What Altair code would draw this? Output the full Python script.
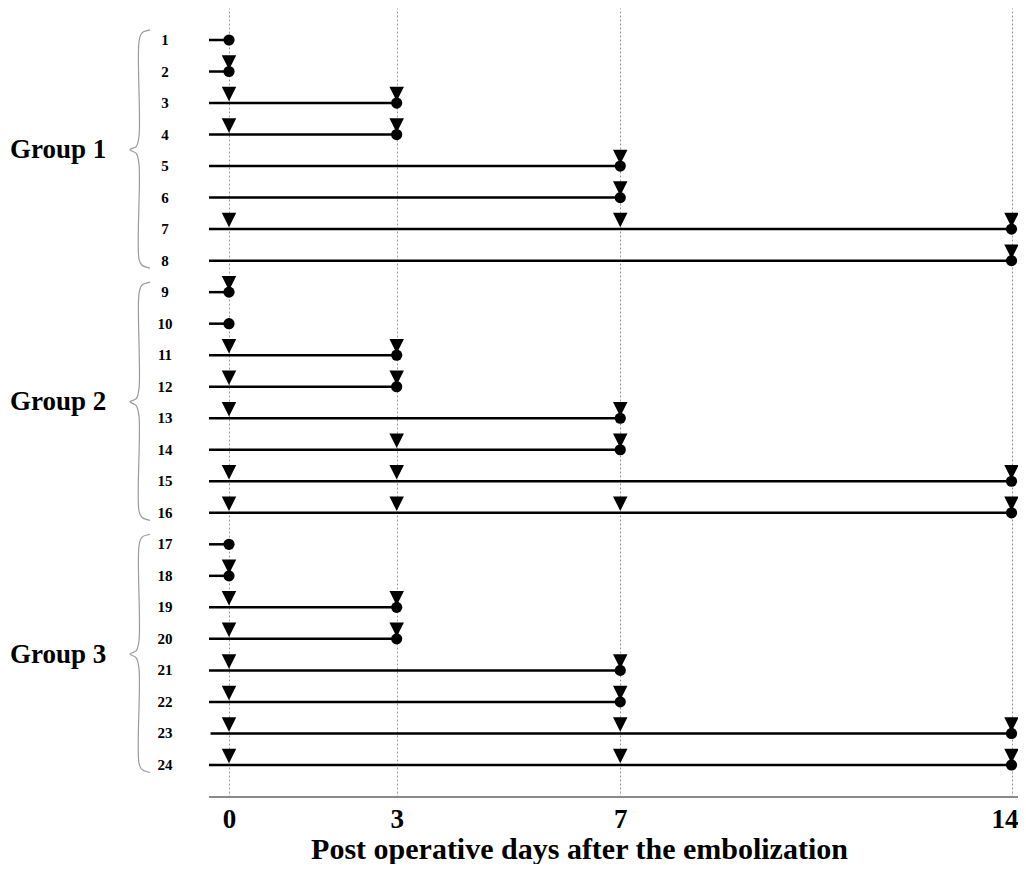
import altair as alt
import pandas as pd

# ---- data ----
rows = list(range(1, 25))
row_labels = [str(r) for r in rows]
start_day = [-0.358] * 24
start_day[22] = -0.33
end_day = [0, 0, 3, 3, 7, 7, 14, 14,
           0, 0, 3, 3, 7, 7, 14, 14,
           0, 0, 3, 3, 7, 7, 14, 14]
triangle_days = [
    [], [0], [0, 3], [0, 3], [7], [7], [0, 7, 14], [14],
    [0], [], [0, 3], [0, 3], [0, 7], [3, 7], [0, 3, 14], [0, 3, 7, 14],
    [], [0], [0, 3], [0, 3], [0, 7], [0, 7], [0, 7, 14], [0, 7, 14],
]
group_names = ["Group 1", "Group 2", "Group 3"]
group_first = [1, 9, 17]
group_last = [8, 16, 24]
tick_values = [0, 3, 7, 14]
x_title = "Post operative days after the embolization"

# ---- tables ----
seg_df = pd.DataFrame({"row": rows, "start": start_day, "end": end_day, "label": row_labels})
tri_df = pd.DataFrame([{"row": r, "day": d} for r, ds in zip(rows, triangle_days) for d in ds])
grp_df = pd.DataFrame({"name": group_names,
                       "mid": [(a + b) / 2 for a, b in zip(group_first, group_last)]})

# brace outline (relative to each group's first/mid/last row)
brace_dx = [-1.413, -1.56, -1.61, -1.61, -1.66, -1.771, -1.66, -1.61, -1.61, -1.56, -1.413]
brace_ref = ["s", "s", "s", "m", "m", "m", "m", "m", "e", "e", "e"]
brace_dy = [-0.32, -0.22, 0.05, -0.45, -0.12, -0.02, 0.10, 0.45, -0.05, 0.14, 0.24]
brace_rows = []
for g, a, b in zip(group_names, group_first, group_last):
    ref = {"s": a, "m": (a + b) / 2, "e": b}
    for i, (dx, rf, dy) in enumerate(zip(brace_dx, brace_ref, brace_dy)):
        brace_rows.append({"g": g, "i": i, "x": dx, "y": ref[rf] + dy})
brace_df = pd.DataFrame(brace_rows)

# ---- layout ----
W, H = 1010, 789
XMIN, XMAX = -3.954, 14.116
YMIN, YMAX = -0.0152, 25.017
FONT = "Liberation Serif"

xs = alt.Scale(domain=[XMIN, XMAX], nice=False, zero=False)
ys = alt.Scale(domain=[YMIN, YMAX], nice=False, zero=False, reverse=True)

x_axis = alt.Axis(values=tick_values, format="d", title=x_title, domain=False, ticks=False,
                  grid=True, gridColor="#999999", gridDash=[2, 2], gridWidth=1,
                  labelFont=FONT, labelFontSize=27, labelFontWeight="bold", labelColor="black",
                  labelPadding=9, labelFlush=False,
                  labelOffset={"condition": {"test": "datum.value == 14", "value": -7}, "value": 0},
                  titleFont=FONT, titleFontSize=30, titleFontWeight="bold", titleColor="black",
                  titleX=571, titleY=61, titleAlign="center", titleBaseline="alphabetic")


def X(field=None, datum=None):
    if datum is not None:
        return alt.X(datum=datum, type="quantitative", scale=xs, axis=x_axis, title=x_title)
    return alt.X(field, type="quantitative", scale=xs, axis=x_axis, title=x_title)


def Y(field):
    return alt.Y(field, type="quantitative", scale=ys, axis=None)


base = alt.Chart(seg_df)

segs = base.mark_rule(color="black", strokeWidth=2.5).encode(
    x=X("start"), x2="end:Q", y=Y("row"),
)

tris = alt.Chart(tri_df).mark_point(shape="M-1,-1L1,-1L0,1Z", filled=True, size=210,
                                   color="black", opacity=1, yOffset=-9).encode(
    x=X("day"), y=Y("row"),
)

circs = base.mark_point(shape="circle", filled=True, size=125, color="black", opacity=1).encode(
    x=X("end"), y=Y("row"),
)

row_text = base.mark_text(font=FONT, fontSize=15, fontWeight="bold", color="black",
                          align="center", baseline="middle").encode(
    x=X(datum=-1.145), y=Y("row"), text="label:N",
)

grp_text = alt.Chart(grp_df).mark_text(font=FONT, fontSize=27, fontWeight="bold", color="black",
                                       align="left", baseline="middle").encode(
    x=X(datum=-3.918), y=Y("mid"), text="name:N",
)

braces = alt.Chart(brace_df).mark_line(color="#9a9a9a", strokeWidth=1.2,
                                       interpolate="catmull-rom").encode(
    x=X("x"), y=Y("y"), detail="g:N", order="i:Q",
)

baseline = alt.Chart(grp_df).mark_rule(color="#8a8a8a", strokeWidth=2).encode(
    x=X(datum=-0.358), x2=alt.datum(XMAX), y=alt.value(H),
)

chart = alt.layer(segs, baseline, braces, tris, circs, row_text, grp_text).properties(
    width=W, height=H,
    autosize=alt.AutoSizeParams(type="none"),
    padding={"left": 0, "top": 0, "right": 0, "bottom": 67},
).configure_view(stroke=None)

chart.save("out.html", embed_options={"renderer": "svg", "actions": False})
